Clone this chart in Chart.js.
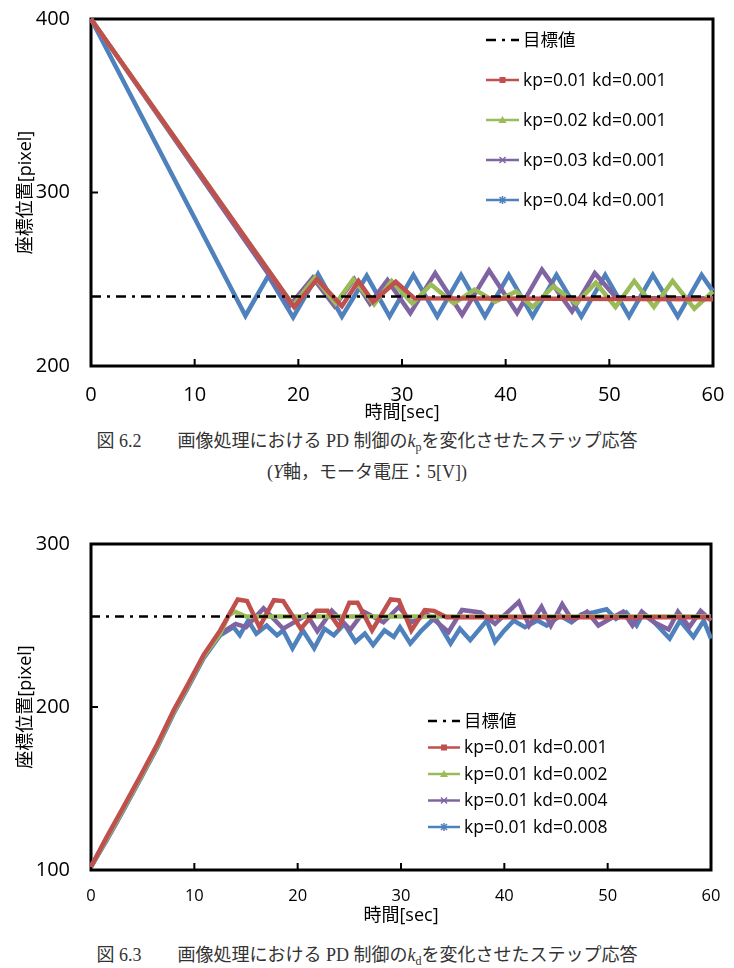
<!DOCTYPE html>
<html><head><meta charset="utf-8">
<script src="https://cdn.jsdelivr.net/npm/chart.js@4.4.1/dist/chart.umd.min.js"></script>
<style>
html,body{margin:0;padding:0;background:#fff;}
body{width:734px;height:968px;position:relative;overflow:hidden;}
canvas{position:absolute;left:0;}
#c1{top:0;}
#c2{top:500px;}
.cap{position:absolute;left:0;width:734px;text-align:center;font-family:"Liberation Serif","Noto Sans CJK JP",serif;font-size:18px;color:#333;white-space:pre;line-height:18px;}
.cap sub{font-size:12px;line-height:0;vertical-align:-4px;}
</style></head>
<body>
<canvas id="c1" width="734" height="424"></canvas>
<canvas id="c2" width="734" height="427"></canvas>
<div class="cap" style="top:432px">図 6.2　　画像処理における PD 制御の<i>k</i><sub>p</sub>を変化させたステップ応答</div>
<div class="cap" style="top:463px">(<i>Y</i>軸，モータ電圧：5[V])</div>
<div class="cap" style="top:946px">図 6.3　　画像処理における PD 制御の<i>k</i><sub>d</sub>を変化させたステップ応答</div>
<script>
// ---------- Chart 1 (kp varied) ----------
const xMin = 0, xMax = 60, xStep = 10;
const yMin1 = 200, yMax1 = 400, yStep1 = 100;
const labels1 = ['目標値', 'kp=0.01 kd=0.001', 'kp=0.02 kd=0.001', 'kp=0.03 kd=0.001', 'kp=0.04 kd=0.001'];
const target1T = [0, 60];
const target1V = [240, 240];
const red1T = [0, 19.6, 21.8, 24.2, 25.8, 27.2, 29.4, 31.2, 60];
const red1V = [400, 234, 250, 234.5, 249, 237, 248.5, 239, 238.5];
const green1T = [0, 19.5, 21.6, 23.6, 25.3, 27.3, 29.0, 31.0, 32.8, 35.0, 37.0, 39.0, 41.0, 42.6, 44.6, 46.8, 48.7, 50.6, 52.4, 54.3, 56.1, 58.2, 60];
const green1V = [400, 235, 251, 236, 250, 235.5, 249, 236, 247, 236, 244, 237, 243, 234, 246, 236, 248, 234, 249, 234, 249, 233, 243];
const purple1T = [0, 19.2, 21.4, 23.5, 25.4, 26.9, 28.6, 30.8, 33.2, 35.8, 38.4, 41.1, 43.5, 46.4, 48.6, 50.7, 60];
const purple1V = [400, 235, 251, 234.5, 250, 236, 249.5, 230.5, 253.5, 229.5, 255, 230.5, 255.5, 231.5, 253.5, 239, 239];
const blue1T = [0, 14.9, 17.1, 19.5, 21.9, 24.2, 26.6, 28.8, 31.1, 33.4, 35.7, 38.0, 40.3, 42.6, 44.9, 47.3, 49.6, 51.9, 54.2, 56.6, 58.9, 60];
const blue1V = [400, 229, 252, 228, 253, 228.5, 252, 228.5, 252.5, 228.5, 252.5, 228.5, 252.5, 228.5, 252.5, 228.5, 252.5, 228.5, 252.5, 228.5, 252.5, 243];

// ---------- Chart 2 (kd varied) ----------
const yMin2 = 100, yMax2 = 300, yStep2 = 100;
const labels2 = ['目標値', 'kp=0.01 kd=0.001', 'kp=0.01 kd=0.002', 'kp=0.01 kd=0.004', 'kp=0.01 kd=0.008'];
const target2T = [0, 60];
const target2V = [255.5, 255.5];
const red2T = [0, 1.5, 3, 4.8, 6.4, 8, 9.3, 10.9, 12.5, 14.2, 15.1, 16.3, 17.7, 18.6, 20.3, 21.8, 22.9, 24.0, 25.0, 25.8, 27.2, 29.0, 29.8, 31.0, 32.3, 33.2, 34.4, 60];
const red2V = [102, 120, 137, 158, 177, 198, 213, 232, 247, 266, 265, 249, 265.5, 265, 248, 259, 259, 249, 264, 264, 247, 266, 265.5, 247, 259.5, 259, 255, 255];
const green2T = [0, 1.5, 3, 4.8, 6.4, 8, 9.3, 10.9, 12.5, 13.3, 13.9, 15.0, 60];
const green2V = [102, 119, 136, 157, 176, 197, 212, 231, 245, 256, 258.5, 255.5, 255.5];
const purple2T = [0, 1.5, 3, 4.8, 6.4, 8, 9.3, 10.9, 12.5, 14.0, 15.0, 16.7, 18.6, 20.9, 21.9, 23.3, 25.1, 26.4, 28.3, 29.8, 31.0, 32.5, 33.3, 34.6, 35.9, 37.7, 39.1, 41.4, 42.4, 43.6, 44.5, 45.6, 46.6, 48.0, 49.1, 50.2, 51.5, 52.4, 53.3, 54.5, 55.9, 56.8, 57.9, 59.0, 60];
const purple2V = [102, 119, 136, 157, 176, 197, 212, 231, 245, 251, 249, 260.5, 248, 256.5, 246.5, 259, 247.5, 258.5, 252, 261.5, 252, 257, 253, 246, 259.5, 258, 251, 264.5, 250, 261.5, 250, 263, 253, 258.5, 250, 254, 258.5, 250, 258.5, 252, 247.5, 258.5, 249, 259, 253];
const blue2T = [0, 1.5, 3, 4.8, 6.4, 8, 9.3, 10.9, 12.5, 13.8, 14.4, 15.2, 16.0, 17.0, 18.0, 18.6, 19.5, 20.5, 21.6, 22.6, 23.5, 24.5, 25.6, 26.5, 27.3, 28.4, 29.3, 29.9, 30.9, 32.0, 33.3, 34.8, 35.7, 36.7, 38.3, 39.1, 40.0, 40.9, 42.0, 43.2, 44.1, 45.4, 46.5, 47.5, 48.6, 49.9, 50.8, 51.8, 52.8, 53.4, 54.5, 56.0, 57.0, 58.3, 59.3, 60];
const blue2V = [102, 118, 135, 156, 175, 196, 211, 230, 244, 249, 244, 253, 245, 250, 244, 247, 236, 247, 236, 248, 244, 251, 240, 245, 238, 247, 243, 249, 239, 247, 255, 239, 248, 241, 253, 240, 247, 253, 249, 253, 250, 256, 252, 257, 258, 260, 254, 258, 250, 257, 252, 242, 253, 243, 253, 242];

const xTitle = '時間[sec]';
const yTitle = '座標位置[pixel]';
const COLORS = {target: '#000000', red: '#C0504D', green: '#9BBB59', purple: '#8064A2', blue: '#4F81BD'};
const FONT = "'Open Sans', 'Noto Sans CJK JP', sans-serif";

function pts(T, V) { return T.map((t, i) => ({x: t, y: V[i]})); }

function drawMarker(ctx, type, x, y, color) {
  ctx.save();
  ctx.fillStyle = color; ctx.strokeStyle = color; ctx.lineWidth = 1.5;
  const r = 3;
  ctx.beginPath();
  if (type === 'square') { ctx.fillRect(x - r, y - r, 2 * r, 2 * r); }
  else if (type === 'triangle') { ctx.moveTo(x, y - r - 1); ctx.lineTo(x + r + 1, y + r); ctx.lineTo(x - r - 1, y + r); ctx.closePath(); ctx.fill(); }
  else if (type === 'cross') { ctx.moveTo(x - r, y - r); ctx.lineTo(x + r, y + r); ctx.moveTo(x + r, y - r); ctx.lineTo(x - r, y + r); ctx.stroke(); }
  else if (type === 'star') { ctx.moveTo(x - r, y - r); ctx.lineTo(x + r, y + r); ctx.moveTo(x + r, y - r); ctx.lineTo(x - r, y + r); ctx.moveTo(x, y - r - 1); ctx.lineTo(x, y + r + 1); ctx.stroke(); }
  ctx.restore();
}

const framePlugin = {
  id: 'frame',
  beforeDatasetsDraw(chart) {
    const {ctx, chartArea: a, scales} = chart;
    ctx.save();
    ctx.strokeStyle = '#000';
    ctx.lineWidth = 3;
    ctx.strokeRect(a.left, a.top, a.right - a.left, a.bottom - a.top);
    ctx.lineWidth = 2;
    ctx.beginPath();
    scales.x.ticks.forEach(t => {
      const px = scales.x.getPixelForValue(t.value);
      if (px > a.left + 3 && px < a.right - 3) { ctx.moveTo(px, a.bottom); ctx.lineTo(px, a.bottom - 7); }
    });
    scales.y.ticks.forEach(t => {
      const py = scales.y.getPixelForValue(t.value);
      if (py > a.top + 3 && py < a.bottom - 3) { ctx.moveTo(a.left, py); ctx.lineTo(a.left + 7, py); }
    });
    ctx.stroke();
    ctx.restore();
  }
};

const legendPlugin = {
  id: 'innerLegend',
  afterDraw(chart, args, opts) {
    const {ctx, chartArea: a} = chart;
    ctx.save();
    ctx.font = opts.fontSize + 'px ' + FONT;
    ctx.textBaseline = 'middle';
    ctx.fillStyle = '#000';
    chart.data.datasets.forEach((ds, i) => {
      const y = a.top + opts.dy + i * opts.gap;
      const x0 = a.left + opts.dx, x1 = x0 + opts.lineLen;
      ctx.save();
      ctx.strokeStyle = ds.borderColor;
      ctx.lineWidth = ds.legendWidth;
      ctx.setLineDash(ds.borderDash || []);
      ctx.beginPath(); ctx.moveTo(x0, y); ctx.lineTo(x1, y); ctx.stroke();
      ctx.restore();
      if (ds.markerType) drawMarker(ctx, ds.markerType, (x0 + x1) / 2, y, ds.borderColor);
      ctx.fillStyle = '#000';
      ctx.fillText(ds.label, x1 + 4, y + 1);
    });
    ctx.restore();
  }
};

function makeDatasets(labels, dash, series) {
  const ds = [{
    label: labels[0], data: pts(series[0][0], series[0][1]), borderColor: COLORS.target,
    borderWidth: 2.5, borderDash: dash, legendWidth: 2.5, markerType: null
  }];
  const cols = [COLORS.red, COLORS.green, COLORS.purple, COLORS.blue];
  const marks = ['square', 'triangle', 'cross', 'star'];
  for (let i = 1; i < 5; i++) {
    ds.push({label: labels[i], data: pts(series[i][0], series[i][1]), borderColor: cols[i - 1],
      borderWidth: 4.5, legendWidth: 2.5, markerType: marks[i - 1]});
  }
  return ds.map(d => Object.assign(d, {pointRadius: 0, tension: 0, fill: false, clip: 8}));
}

function makeChart(id, datasets, yMin, yMax, yStep, xTickSize, xTickPad, xAxisH, topPad, rightPad, legendOpts) {
  return new Chart(document.getElementById(id), {
    type: 'line',
    data: {datasets},
    options: {
      responsive: false, animation: false, devicePixelRatio: 1,
      layout: {autoPadding: false, padding: {left: 0, top: topPad, right: rightPad, bottom: 0}},
      plugins: {legend: {display: false}, tooltip: {enabled: false}, innerLegend: legendOpts},
      scales: {
        x: {
          type: 'linear', min: xMin, max: xMax,
          ticks: {stepSize: xStep, font: {family: FONT, size: xTickSize}, color: '#000', padding: xTickPad, maxRotation: 0},
          grid: {display: false, drawTicks: false}, border: {display: false},
          title: {display: true, text: xTitle, font: {family: FONT, size: 18}, color: '#000', padding: {top: 0, bottom: 0}},
          afterFit(s) { s.height = xAxisH; s.paddingLeft = 0; s.paddingRight = 0; }
        },
        y: {
          min: yMin, max: yMax,
          ticks: {stepSize: yStep, font: {family: FONT, size: 20}, color: '#000', padding: 21},
          grid: {display: false, drawTicks: false}, border: {display: false},
          title: {display: true, text: yTitle, font: {family: FONT, size: 18}, color: '#000', padding: {top: 15, bottom: 0}},
          afterFit(s) { s.width = 91; s.paddingTop = 0; s.paddingBottom = 0; }
        }
      }
    },
    plugins: [framePlugin, legendPlugin]
  });
}

makeChart('c1',
  makeDatasets(labels1, [10, 6, 3, 6], [[target1T, target1V], [red1T, red1V], [green1T, green1V], [purple1T, purple1V], [blue1T, blue1V]]),
  yMin1, yMax1, yStep1, 20, 17, 58, 19, 21,
  {dx: 395, dy: 21, gap: 40, lineLen: 33, fontSize: 17.5});

makeChart('c2',
  makeDatasets(labels2, [9, 6, 3, 6], [[target2T, target2V], [red2T, red2V], [green2T, green2V], [purple2T, purple2V], [blue2T, blue2V]]),
  yMin2, yMax2, yStep2, 16.5, 16, 57, 44, 23,
  {dx: 337, dy: 177, gap: 26.5, lineLen: 32, fontSize: 17.5});
</script>
</body></html>
